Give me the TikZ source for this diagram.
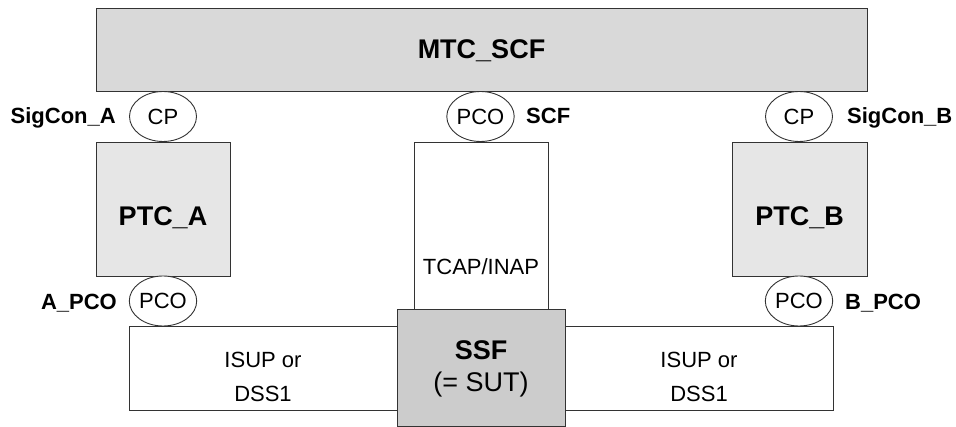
\documentclass[tikz,border=0pt]{standalone}
\usepackage{fontspec}
\setmainfont{Liberation Sans}
\usetikzlibrary{shapes.geometric}
\definecolor{mtcgray}{HTML}{D9D9D9}
\definecolor{ptcgray}{HTML}{E6E6E6}
\definecolor{ssfgray}{HTML}{CCCCCC}
\definecolor{edge}{HTML}{333333}
\tikzset{
  x=1pt, y=-1pt,
  boxnode/.style={draw=edge, line width=0.9pt, rectangle, inner sep=0pt},
  portnode/.style={draw=edge, line width=0.9pt, ellipse, fill=white, inner sep=0pt,
    minimum width=67pt, minimum height=50pt, font=\fontsize{22}{26}\selectfont},
  txt/.style={inner sep=0pt, font=\fontsize{22}{26}\selectfont},
  bigtxt/.style={inner sep=0pt, font=\fontsize{27}{32}\selectfont\bfseries},
  lbl/.style={inner sep=0pt, font=\fontsize{22}{26}\selectfont\bfseries},
}
\begin{document}
\begin{tikzpicture}
\useasboundingbox (0,0) rectangle (956,427);
% boxes
\node[boxnode, fill=mtcgray, minimum width=771pt, minimum height=83pt] (mtc) at (481.5,49.5) {};
\node[boxnode, fill=ptcgray, minimum width=134pt, minimum height=134pt] (ptcA) at (163,209) {};
\node[boxnode, fill=ptcgray, minimum width=135pt, minimum height=134pt] (ptcB) at (799.5,209) {};
\node[boxnode, fill=white, minimum width=134pt, minimum height=167pt] (tcap) at (481,225.5) {};
\node[boxnode, fill=white, minimum width=268pt, minimum height=84pt] (isupA) at (263,368) {};
\node[boxnode, fill=white, minimum width=268pt, minimum height=84pt] (isupB) at (699,368) {};
\node[boxnode, fill=ssfgray, minimum width=168pt, minimum height=117pt] (ssf) at (481,367.5) {};
% ports
\node[portnode] (cpA) at (163,116.5) {CP};
\node[portnode] (pcoS) at (480.5,116.5) {PCO};
\node[portnode] (cpB) at (799,116.5) {CP};
\node[portnode] (pcoA) at (163,301) {PCO};
\node[portnode] (pcoB) at (799,301) {PCO};
% texts
\node[bigtxt, anchor=base] (tmtc) at (481.5,59) {MTC\_SCF};
\node[bigtxt, anchor=base] (tptcA) at (163,226) {PTC\_A};
\node[bigtxt, anchor=base] (tptcB) at (799.5,226) {PTC\_B};
\node[txt, anchor=base] (ttcap) at (481,275) {TCAP/INAP};
\node[bigtxt, anchor=base] (tssf) at (481,360) {SSF};
\node[txt, font=\fontsize{27}{32}\selectfont, anchor=base] (tsut) at (481,392) {(= SUT)};
\node[txt, anchor=base] (tisupA) at (263,368) {ISUP or};
\node[txt, anchor=base] (tdssA) at (263,402) {DSS1};
\node[txt, anchor=base] (tisupB) at (699,368) {ISUP or};
\node[txt, anchor=base] (tdssB) at (699,402) {DSS1};
% labels
\node[lbl, anchor=base east] (lsigA) at (116,124) {SigCon\_A};
\node[lbl, anchor=base west] (lscf) at (526,124) {SCF};
\node[lbl, anchor=base west] (lsigB) at (847,124) {SigCon\_B};
\node[lbl, anchor=base east] (lpcoA) at (117,310) {A\_PCO};
\node[lbl, anchor=base west] (lpcoB) at (845,310) {B\_PCO};
\end{tikzpicture}
\end{document}
